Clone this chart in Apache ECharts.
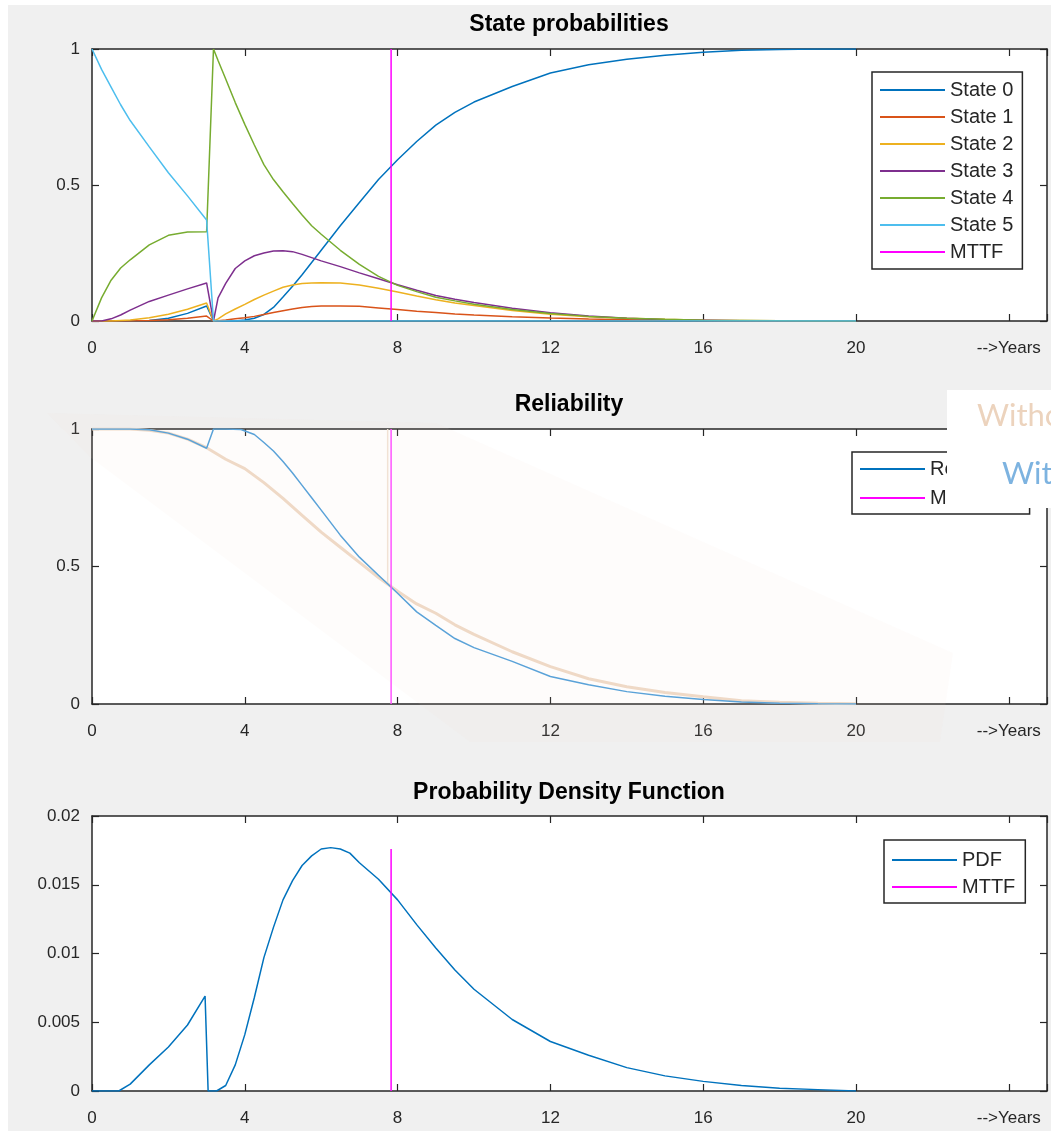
<!DOCTYPE html>
<html>
<head>
<meta charset="utf-8">
<script src="https://cdn.jsdelivr.net/npm/echarts@6/dist/echarts.min.js"></script>
<style>
  html, body { margin: 0; padding: 0; background: #fff; }
  #chart { position: absolute; left: 8px; top: 5px; width: 1043px; height: 1126px; background: #f0f0f0; }
</style>
</head>
<body>
<div id="chart"></div>
<script>
// ---- data ----
var years = [0, 0.25, 0.5, 0.75, 1, 1.5, 2, 2.5, 3, 3.18, 3.3, 3.5, 3.75, 4, 4.25, 4.5, 4.75, 5, 5.25, 5.5, 5.75, 6, 6.5, 7, 7.5, 8, 8.5, 9, 9.5, 10, 11, 12, 13, 14, 15, 16, 17, 18, 19, 20];
var state0 = [0, 0, 0, 0, 0, 0.002, 0.01, 0.028, 0.055, 0, 0, 0, 0, 0.004, 0.01, 0.024, 0.05, 0.088, 0.128, 0.17, 0.215, 0.26, 0.35, 0.436, 0.52, 0.593, 0.66, 0.72, 0.767, 0.805, 0.862, 0.912, 0.942, 0.962, 0.977, 0.988, 0.995, 0.998, 1, 1];
var state1 = [0, 0, 0, 0, 0, 0.002, 0.005, 0.01, 0.018, 0, 0.001, 0.004, 0.008, 0.012, 0.017, 0.024, 0.031, 0.038, 0.044, 0.05, 0.053, 0.055, 0.055, 0.054, 0.048, 0.042, 0.036, 0.031, 0.026, 0.022, 0.016, 0.011, 0.007, 0.005, 0.003, 0.002, 0.001, 0, 0, 0];
var state2 = [0, 0, 0, 0.002, 0.004, 0.012, 0.025, 0.043, 0.066, 0, 0.008, 0.026, 0.044, 0.061, 0.079, 0.095, 0.11, 0.124, 0.132, 0.138, 0.14, 0.141, 0.14, 0.132, 0.12, 0.107, 0.092, 0.078, 0.066, 0.057, 0.039, 0.025, 0.016, 0.01, 0.006, 0.003, 0.002, 0.001, 0, 0];
var state3 = [0, 0, 0.008, 0.022, 0.04, 0.072, 0.095, 0.118, 0.14, 0, 0.085, 0.138, 0.193, 0.221, 0.24, 0.25, 0.257, 0.258, 0.255, 0.245, 0.233, 0.221, 0.2, 0.177, 0.155, 0.133, 0.113, 0.094, 0.08, 0.068, 0.047, 0.03, 0.018, 0.01, 0.005, 0.003, 0.001, 0, 0, 0];
var state4 = [0, 0.085, 0.15, 0.195, 0.225, 0.28, 0.315, 0.327, 0.328, 1, 0.958, 0.89, 0.803, 0.723, 0.647, 0.575, 0.52, 0.475, 0.432, 0.39, 0.35, 0.319, 0.26, 0.208, 0.164, 0.131, 0.108, 0.087, 0.074, 0.062, 0.042, 0.028, 0.017, 0.01, 0.006, 0.003, 0.002, 0.001, 0, 0];
var state5 = [1, 0.925, 0.86, 0.795, 0.737, 0.64, 0.545, 0.46, 0.371, 0, 0, 0, 0, 0, 0, 0, 0, 0, 0, 0, 0, 0, 0, 0, 0, 0, 0, 0, 0, 0, 0, 0, 0, 0, 0, 0, 0, 0, 0, 0];

var relYears = [0, 0.5, 1, 1.5, 2, 2.5, 3, 3.18, 3.5, 3.9, 4.25, 4.5, 4.75, 5, 5.25, 5.5, 5.75, 6, 6.5, 7, 7.5, 8, 8.5, 9, 9.5, 10, 11, 12, 13, 14, 15, 16, 17, 18, 19, 20];
var reliability = [1, 1, 1, 0.997, 0.985, 0.963, 0.93, 1, 1, 0.998, 0.98, 0.951, 0.92, 0.882, 0.84, 0.795, 0.75, 0.705, 0.614, 0.534, 0.468, 0.403, 0.335, 0.286, 0.238, 0.205, 0.155, 0.1, 0.07, 0.045, 0.028, 0.016, 0.007, 0.003, 0.001, 0];

// faded "without" curve pasted over the reliability plot
var woYears = [0, 0.5, 1, 1.5, 2, 2.5, 3, 3.5, 4, 4.5, 5, 5.5, 6, 6.5, 7, 7.5, 8, 8.5, 9, 9.5, 10, 11, 12, 13, 14, 15, 16, 17, 18, 19, 20];
var without = [1, 1, 1, 0.995, 0.985, 0.963, 0.932, 0.89, 0.856, 0.805, 0.748, 0.686, 0.625, 0.57, 0.515, 0.46, 0.41, 0.364, 0.33, 0.288, 0.253, 0.19, 0.136, 0.092, 0.063, 0.042, 0.026, 0.012, 0.006, 0.003, 0.001];
var woMttf = 7.74;

var pdfYears = [0, 0.7, 1, 1.5, 2, 2.5, 2.96, 3.04, 3.26, 3.5, 3.75, 4, 4.25, 4.5, 4.75, 5, 5.25, 5.5, 5.75, 6, 6.25, 6.5, 6.75, 7, 7.5, 8, 8.5, 9, 9.5, 10, 11, 12, 13, 14, 15, 16, 17, 18, 19, 20];
var pdf = [0, 0, 0.0005, 0.0019, 0.0032, 0.0048, 0.0069, 0, 0, 0.0004, 0.0019, 0.0041, 0.0068, 0.0097, 0.0119, 0.0139, 0.0153, 0.0164, 0.0171, 0.0176, 0.0177, 0.0176, 0.0173, 0.0166, 0.0154, 0.0139, 0.0121, 0.0104, 0.0088, 0.0074, 0.0052, 0.0036, 0.0026, 0.0017, 0.0011, 0.0007, 0.0004, 0.0002, 0.0001, 0];

var mttf = 7.83;
var mttfTop = [1, 1, 0.0176];

var stateNames = ['State 0', 'State 1', 'State 2', 'State 3', 'State 4', 'State 5'];
var stateColors = ['#0072BD', '#D95319', '#EDB120', '#7E2F8E', '#77AC30', '#4DBEEE'];
var titles = ['State probabilities', 'Reliability', 'Probability Density Function'];
var xTicks = [0, 4, 8, 12, 16, 20, 24];
var yMax = [1, 1, 0.02];
var yStep = [0.5, 0.5, 0.005];

// ---- helpers ----
var FONT = "'Liberation Sans', Arial, Helvetica, sans-serif";
var INK = '#262626';
var MAGENTA = '#FF00FF';

function zip(xs, ys) {
  return xs.map(function (x, k) { return [x, ys[k]]; });
}

var grids = [
  { left: 84, top: 44, width: 955, height: 272 },
  { left: 84, top: 424, width: 955, height: 275 },
  { left: 84, top: 811, width: 955, height: 275 }
];

var xAxes = [], yAxes = [];
grids.forEach(function (g, i) {
  g.show = true;
  g.backgroundColor = '#fff';
  g.borderWidth = 0;
  ['bottom', 'top'].forEach(function (pos) {
    xAxes.push({
      type: 'value', gridIndex: i, position: pos, min: 0, max: 25, interval: 4,
      axisLine: { show: true, onZero: false, lineStyle: { color: INK, width: 1.5 } },
      axisTick: { show: true, inside: true, length: 7, lineStyle: { color: INK, width: 1.2 } },
      axisLabel: {
        show: pos === 'bottom', margin: 19, color: INK, fontSize: 17, fontFamily: FONT,
        formatter: function (v) {
          if (xTicks.indexOf(v) < 0) return '';
          return v === 24 ? '-->Years' : String(v);
        }
      },
      splitLine: { show: false }
    });
  });
  ['left', 'right'].forEach(function (pos) {
    yAxes.push({
      type: 'value', gridIndex: i, position: pos, min: 0, max: yMax[i], interval: yStep[i],
      axisLine: { show: true, onZero: false, lineStyle: { color: INK, width: 1.5 } },
      axisTick: { show: true, inside: true, length: 7, lineStyle: { color: INK, width: 1.2 } },
      axisLabel: { show: pos === 'left', margin: 12, color: INK, fontSize: 17, fontFamily: FONT },
      splitLine: { show: false }
    });
  });
});

function lineSeries(name, panel, data, color, width) {
  return {
    name: name, type: 'line', xAxisIndex: panel * 2, yAxisIndex: panel * 2,
    data: data, showSymbol: false, symbol: 'none', smooth: false,
    lineStyle: { color: color, width: width || 1.5 }, itemStyle: { color: color },
    emphasis: { disabled: true }, silent: true
  };
}

var series = [];
var stateData = [state0, state1, state2, state3, state4, state5];
stateData.forEach(function (vals, k) {
  series.push(lineSeries(stateNames[k], 0, zip(years, vals), stateColors[k]));
});
series.push(lineSeries('MTTF', 0, [[mttf, 0], [mttf, mttfTop[0]]], MAGENTA));

series.push(lineSeries('Without', 1, zip(woYears, without), '#efd9c6', 3));
series.push(lineSeries('Without MTTF', 1, [[woMttf, 0.43], [woMttf, 1]], '#f1e2d4', 1.5));
series.push(lineSeries('Reliability', 1, zip(relYears, reliability), '#5aa2d8'));
series.push(lineSeries('MTTF', 1, [[mttf, 0], [mttf, mttfTop[1]]], '#ff55ff'));

series.push(lineSeries('PDF', 2, zip(pdfYears, pdf), '#0072BD'));
series.push(lineSeries('MTTF', 2, [[mttf, 0], [mttf, mttfTop[2]]], MAGENTA));

function legendBox(items, left, top, padding, gap) {
  return {
    orient: 'vertical', left: left, top: top, padding: padding, itemGap: gap,
    icon: 'rect', itemWidth: 65, itemHeight: 2, selectedMode: false,
    backgroundColor: '#fff', borderColor: INK, borderWidth: 1.5,
    textStyle: { color: INK, fontSize: 20, lineHeight: 20, fontFamily: FONT },
    data: items
  };
}

var legends = [
  legendBox(stateNames.map(function (n, k) {
    return { name: n, itemStyle: { color: stateColors[k] } };
  }).concat([{ name: 'MTTF', itemStyle: { color: MAGENTA } }]), 864, 67, [8, 9, 7, 8], 7),
  legendBox([{ name: 'Reliability', itemStyle: { color: '#0072BD' } },
             { name: 'MTTF', itemStyle: { color: MAGENTA } }], 844, 447, [7, 14, 6, 8], 9),
  legendBox([{ name: 'PDF', itemStyle: { color: '#0072BD' } },
             { name: 'MTTF', itemStyle: { color: MAGENTA } }], 876, 835, [10, 10, 6, 8], 7)
];

var titleY = [20, 400, 788];
var graphics = titles.map(function (t, i) {
  return {
    type: 'text', x: 561, y: titleY[i], silent: true,
    style: { text: t, fill: '#000', fontSize: 23, fontWeight: 'bold', fontFamily: FONT,
             align: 'center', verticalAlign: 'middle' }
  };
});

// faint pasted slide fragment over the reliability panel
graphics.push({
  type: 'polygon', z: 1, silent: true,
  shape: { points: [[39, 408], [428, 418], [945, 648], [932, 737], [462, 737], [82, 452]] },
  style: { fill: 'rgba(240,222,200,0.08)' }
});
graphics.push({
  type: 'rect', z: 20, silent: true,
  shape: { x: 939, y: 385, width: 112, height: 118 },
  style: { fill: '#fff' }
});
graphics.push({
  type: 'text', z: 21, x: 969, y: 411, silent: true,
  style: { text: 'Without', fill: '#ecd3bd', fontSize: 31, fontFamily: 'Lato, sans-serif',
           align: 'left', verticalAlign: 'middle' }
});
graphics.push({
  type: 'text', z: 21, x: 994, y: 469, silent: true,
  style: { text: 'With', fill: '#7db3e0', fontSize: 31, fontFamily: 'Lato, sans-serif',
           align: 'left', verticalAlign: 'middle' }
});

var option = {
  animation: false,
  backgroundColor: 'transparent',
  grid: grids,
  xAxis: xAxes,
  yAxis: yAxes,
  legend: legends,
  series: series,
  graphic: graphics
};

var chart = echarts.init(document.getElementById('chart'));
chart.setOption(option);
</script>
</body>
</html>
